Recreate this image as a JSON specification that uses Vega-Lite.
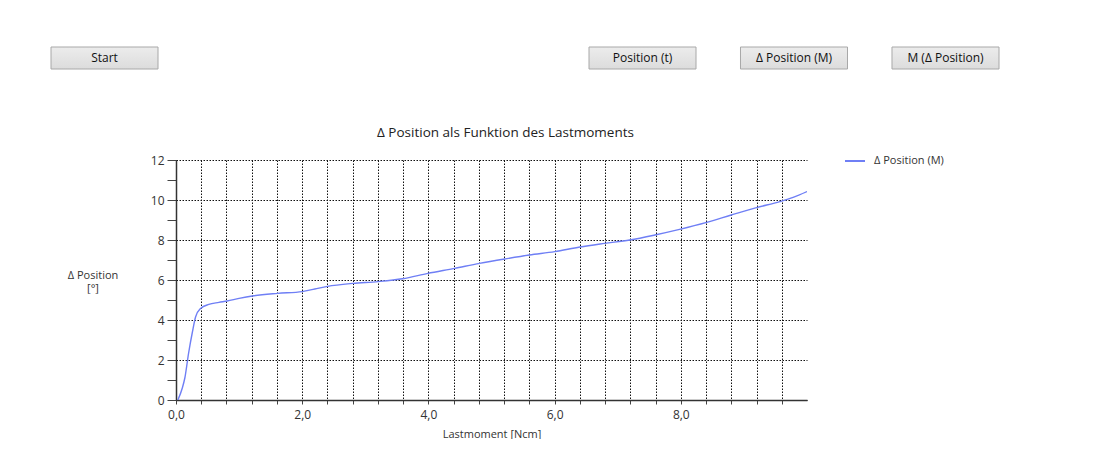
{
  "$schema": "https://vega.github.io/schema/vega-lite/v6.json",
  "background": "white",
  "padding": {"left": 50, "top": 46, "right": 0, "bottom": 0},
  "config": {
    "view": {"stroke": null},
    "font": "Open Sans",
    "axis": {"labelFont": "Open Sans", "titleFont": "Open Sans", "labelColor": "#333", "titleColor": "#333"}
  },
  "spacing": 55,
  "resolve": {"scale": {"color": "independent"}, "legend": {"color": "independent"}},
  "vconcat": [
    {
      "spacing": 429,
      "hconcat": [
        {
          "width": 107,
          "height": 22,
          "data": {"values": [{"label": "Start"}]},
          "encoding": {
            "x": {"field": "label", "type": "nominal", "sort": null, "axis": null, "scale": {"paddingInner": 0, "paddingOuter": 0}}
          },
          "layer": [
            {"mark": {"type": "rect", "stroke": "#a8a8a8", "strokeWidth": 1, "fill": {"gradient": "linear", "x1": 0, "y1": 0, "x2": 0, "y2": 1, "stops": [{"offset": 0, "color": "#ececec"}, {"offset": 1, "color": "#dcdcdc"}]}}},
            {"mark": {"type": "text", "fontSize": 12, "color": "#111"}, "encoding": {"text": {"field": "label"}}}
          ]
        },
        {
          "width": 410,
          "height": 22,
          "data": {"values": [{"label": "Position (t)"}, {"label": "Δ Position (M)"}, {"label": "M (Δ Position)"}]},
          "encoding": {
            "x": {"field": "label", "type": "nominal", "sort": null, "axis": null, "scale": {"paddingInner": 0.2937, "paddingOuter": 0}}
          },
          "layer": [
            {"mark": {"type": "rect", "stroke": "#a8a8a8", "strokeWidth": 1, "fill": {"gradient": "linear", "x1": 0, "y1": 0, "x2": 0, "y2": 1, "stops": [{"offset": 0, "color": "#ececec"}, {"offset": 1, "color": "#dcdcdc"}]}}},
            {"mark": {"type": "text", "fontSize": 12, "color": "#111"}, "encoding": {"text": {"field": "label"}}}
          ]
        }
      ]
    },
    {
      "spacing": 15,
      "resolve": {"scale": {"color": "independent"}, "legend": {"color": "independent"}},
      "hconcat": [
        {
          "width": 84,
          "height": 240,
          "data": {"values": [{"caption": "Δ Position\n[°]"}]},
          "mark": {"type": "text", "lineBreak": "\n", "fontSize": 11, "lineHeight": 13, "color": "#333", "baseline": "middle", "dy": -4},
          "encoding": {"text": {"field": "caption"}}
        },
        {
          "width": 631,
          "height": 240,
          "title": {"text": "Δ Position als Funktion des Lastmoments", "fontSize": 13.5, "fontWeight": "normal", "color": "#222", "offset": 15, "dx": 14},
          "data": {
            "values": [
              {"series": "Δ Position (M)", "M": 0.03, "dP": 0.0},
              {"series": "Δ Position (M)", "M": 0.10, "dP": 0.6},
              {"series": "Δ Position (M)", "M": 0.14, "dP": 1.1},
              {"series": "Δ Position (M)", "M": 0.20, "dP": 2.35},
              {"series": "Δ Position (M)", "M": 0.26, "dP": 3.4},
              {"series": "Δ Position (M)", "M": 0.31, "dP": 4.15},
              {"series": "Δ Position (M)", "M": 0.39, "dP": 4.58},
              {"series": "Δ Position (M)", "M": 0.52, "dP": 4.78},
              {"series": "Δ Position (M)", "M": 0.68, "dP": 4.88},
              {"series": "Δ Position (M)", "M": 0.81, "dP": 4.95},
              {"series": "Δ Position (M)", "M": 1.00, "dP": 5.08},
              {"series": "Δ Position (M)", "M": 1.21, "dP": 5.2},
              {"series": "Δ Position (M)", "M": 1.61, "dP": 5.33},
              {"series": "Δ Position (M)", "M": 2.00, "dP": 5.42},
              {"series": "Δ Position (M)", "M": 2.20, "dP": 5.55},
              {"series": "Δ Position (M)", "M": 2.40, "dP": 5.68},
              {"series": "Δ Position (M)", "M": 2.80, "dP": 5.83},
              {"series": "Δ Position (M)", "M": 3.20, "dP": 5.92},
              {"series": "Δ Position (M)", "M": 3.59, "dP": 6.06},
              {"series": "Δ Position (M)", "M": 3.99, "dP": 6.33},
              {"series": "Δ Position (M)", "M": 4.41, "dP": 6.58},
              {"series": "Δ Position (M)", "M": 4.81, "dP": 6.83},
              {"series": "Δ Position (M)", "M": 5.21, "dP": 7.05},
              {"series": "Δ Position (M)", "M": 5.60, "dP": 7.25},
              {"series": "Δ Position (M)", "M": 6.00, "dP": 7.42},
              {"series": "Δ Position (M)", "M": 6.40, "dP": 7.65},
              {"series": "Δ Position (M)", "M": 6.79, "dP": 7.83},
              {"series": "Δ Position (M)", "M": 7.19, "dP": 8.0},
              {"series": "Δ Position (M)", "M": 7.59, "dP": 8.25},
              {"series": "Δ Position (M)", "M": 7.98, "dP": 8.53},
              {"series": "Δ Position (M)", "M": 8.41, "dP": 8.88},
              {"series": "Δ Position (M)", "M": 8.80, "dP": 9.25},
              {"series": "Δ Position (M)", "M": 9.20, "dP": 9.62},
              {"series": "Δ Position (M)", "M": 9.57, "dP": 9.92},
              {"series": "Δ Position (M)", "M": 9.78, "dP": 10.13},
              {"series": "Δ Position (M)", "M": 10.0, "dP": 10.42}
            ]
          },
          "mark": {"type": "line", "strokeWidth": 1.4, "interpolate": "monotone", "clip": true},
          "encoding": {
            "x": {
              "field": "M",
              "type": "quantitative",
              "scale": {"domain": [0, 10], "nice": false, "zero": true},
              "axis": {
                "title": "Lastmoment [Ncm]",
                "titleFontSize": 11,
                "titleFontWeight": "normal",
                "titlePadding": 8,
                "values": [0, 0.4, 0.8, 1.2, 1.6, 2, 2.4, 2.8, 3.2, 3.6, 4, 4.4, 4.8, 5.2, 5.6, 6, 6.4, 6.8, 7.2, 7.6, 8, 8.4, 8.8, 9.2, 9.6],
                "labelExpr": "abs(datum.value - 2 * round(datum.value / 2)) < 0.001 ? replace(format(datum.value, '.1f'), '.', ',') : ''",
                "labelFontSize": 12,
                "labelPadding": 5,
                "labelFlush": false,
                "labelOverlap": false,
                "tickSize": 4,
                "tickColor": "#444",
                "domainColor": "#333",
                "domainWidth": 1.5,
                "grid": true,
                "gridColor": "#111",
                "gridDash": [1.5, 1.5],
                "gridWidth": 1
              }
            },
            "y": {
              "field": "dP",
              "type": "quantitative",
              "scale": {"domain": [0, 12], "nice": false},
              "axis": {
                "title": null,
                "values": [0, 1, 2, 3, 4, 5, 6, 7, 8, 9, 10, 11, 12],
                "labelExpr": "datum.value % 2 == 0 ? datum.label : ''",
                "labelFontSize": 12,
                "labelPadding": 3,
                "labelFlush": false,
                "labelOverlap": false,
                "tickSize": 9,
                "tickColor": "#444",
                "domainColor": "#333",
                "domainWidth": 1.5,
                "grid": true,
                "gridColor": "#111",
                "gridDash": [1.5, 1.5],
                "gridWidth": 1,
                "gridOpacity": {"condition": {"test": "datum.value % 2 == 0", "value": 1}, "value": 0}
              }
            },
            "color": {
              "field": "series",
              "type": "nominal",
              "scale": {"range": ["#6f7ff5"]},
              "legend": {
                "title": null,
                "orient": "right",
                "offset": 47,
                "padding": -10,
                "symbolType": "stroke",
                "symbolSize": 400,
                "symbolStrokeWidth": 2,
                "labelFontSize": 11,
                "labelColor": "#333",
                "labelOffset": 8
              }
            }
          }
        }
      ]
    }
  ]
}
